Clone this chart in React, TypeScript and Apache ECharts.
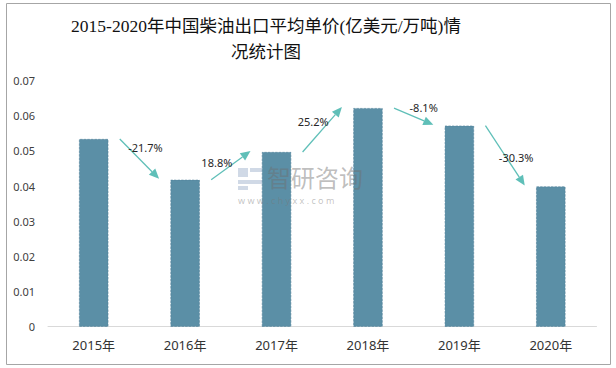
import React, { useEffect, useRef } from "react";
import * as echarts from "echarts";

const titleLines = ["2015-2020年中国柴油出口平均单价(亿美元/万吨)情", "况统计图"];
const categories = ["2015年", "2016年", "2017年", "2018年", "2019年", "2020年"];
const prices = [0.0534, 0.0418, 0.0497, 0.0622, 0.0572, 0.0399];
const growthLabels = ["-21.7%", "18.8%", "25.2%", "-8.1%", "-30.3%"];
const yTicks = [0, 0.01, 0.02, 0.03, 0.04, 0.05, 0.06, 0.07];

// label offsets relative to arrow midpoint (layout only)
const labelOffsets: [number, number][] = [
  [6, -11],
  [-14, -3],
  [-9, -8],
  [10, -9],
  [11, 2],
];

const ARROW = "#5fbfb8";
const BAR = "#5b8fa6";

export default function App() {
  const ref = useRef<HTMLDivElement>(null);
  useEffect(() => {
    if (!ref.current) return;
    const chart = echarts.init(ref.current, null, { renderer: "svg" });
    const option: any = {
      animation: false,
      backgroundColor: "#ffffff",
      title: {
        text: titleLines.join("\n"),
        left: 261,
        top: 8,
        textAlign: "center",
        textStyle: {
          fontFamily: "Liberation Serif, 'Noto Sans CJK SC', serif",
          fontSize: 17.5,
          fontWeight: "normal",
          color: "#111111",
          lineHeight: 26,
        },
      },
      grid: { left: 48, right: 19.5, top: 80.7, bottom: 41.3 },
      xAxis: {
        type: "category",
        data: categories,
        axisLine: { lineStyle: { color: "#d9d9d9", width: 1 } },
        axisTick: { show: false },
        axisLabel: {
          color: "#333333",
          fontSize: 13,
          margin: 12,
          fontFamily: "'Noto Sans', 'Noto Sans CJK SC', sans-serif",
        },
      },
      yAxis: {
        type: "value",
        min: yTicks[0],
        max: yTicks[yTicks.length - 1],
        interval: 0.01,
        splitLine: { show: false },
        axisLine: { show: false },
        axisTick: { show: false },
        axisLabel: {
          color: "#404040",
          fontSize: 11,
          margin: 13,
          fontFamily: "'Noto Sans', sans-serif",
          formatter: (v: number) => (Math.abs(v) < 1e-9 ? "0" : v.toFixed(2)),
        },
      },
      series: [
        {
          type: "bar",
          data: prices,
          barWidth: "32%",
          itemStyle: { color: BAR, borderColor: "#4f8098", borderWidth: 0.6, borderType: "dashed" },
        },
      ],
    };
    chart.setOption(option);

    const graphics: any[] = [];
    graphics.push({
      type: "rect",
      shape: { x: 6.5, y: 3.5, width: 604, height: 361 },
      style: { fill: "none", stroke: "#a6a6a6", lineWidth: 1 },
      silent: true,
    });
    const band = (chart.convertToPixel({ gridIndex: 0 }, [1, 0]) as number[])[0] -
      (chart.convertToPixel({ gridIndex: 0 }, [0, 0]) as number[])[0];
    const off = band * 0.285;
    for (let i = 0; i < prices.length - 1; i++) {
      const p0 = chart.convertToPixel({ gridIndex: 0 }, [i, prices[i]]) as number[];
      const p1 = chart.convertToPixel({ gridIndex: 0 }, [i + 1, prices[i + 1]]) as number[];
      const x0 = p0[0] + off, y0 = p0[1];
      const x1 = p1[0] - off, y1 = p1[1] - 1;
      const dx = x1 - x0, dy = y1 - y0;
      const len = Math.sqrt(dx * dx + dy * dy);
      const ux = dx / len, uy = dy / len;
      const hl = 10, hw = 4.5;
      const bx = x1 - ux * hl, by = y1 - uy * hl;
      graphics.push({
        type: "line",
        shape: { x1: x0, y1: y0, x2: bx, y2: by },
        style: { stroke: ARROW, lineWidth: 1.3 },
        silent: true,
      });
      graphics.push({
        type: "polygon",
        shape: {
          points: [
            [x1, y1],
            [bx - uy * hw, by + ux * hw],
            [bx + uy * hw, by - ux * hw],
          ],
        },
        style: { fill: ARROW },
        silent: true,
      });
      const mx = (x0 + x1) / 2 + labelOffsets[i][0];
      const my = (y0 + y1) / 2 + labelOffsets[i][1];
      graphics.push({
        type: "text",
        x: mx,
        y: my,
        style: {
          text: growthLabels[i],
          fill: "#262626",
          fontSize: 11,
          fontFamily: "'Noto Sans', sans-serif",
          align: "center",
          verticalAlign: "middle",
        },
        silent: true,
      });
    }
    // watermark (on top, semi-transparent)
    const wm = "rgba(150,170,200,0.45)";
    graphics.push({
      type: "group",
      silent: true,
      z: 100,
      children: [
        { type: "rect", z: 100, shape: { x: 238, y: 168, width: 10, height: 9 }, style: { fill: wm } },
        { type: "rect", z: 100, shape: { x: 250, y: 168, width: 12, height: 4 }, style: { fill: wm } },
        { type: "rect", z: 100, shape: { x: 238, y: 180, width: 24, height: 4 }, style: { fill: wm } },
        { type: "rect", z: 100, shape: { x: 238, y: 186, width: 10, height: 4 }, style: { fill: wm } },
        {
          type: "text",
          z: 100,
          x: 267,
          y: 176,
          style: {
            text: "智研咨询",
            fill: "rgba(110,110,110,0.45)",
            fontSize: 24,
            fontFamily: "'Noto Sans CJK SC', sans-serif",
            verticalAlign: "middle",
          },
        },
        {
          type: "text",
          z: 100,
          x: 238,
          y: 200,
          style: {
            text: "w w w . c h y x x . c o m",
            fill: "rgba(120,120,120,0.45)",
            fontSize: 9,
            fontFamily: "'Noto Sans', sans-serif",
            verticalAlign: "middle",
          },
        },
      ],
    });
    chart.setOption({ graphic: graphics });
    return () => chart.dispose();
  }, []);
  return (
    <div
      ref={ref}
      style={{ position: "fixed", left: 0, top: 0, width: 616, height: 368 }}
    />
  );
}
